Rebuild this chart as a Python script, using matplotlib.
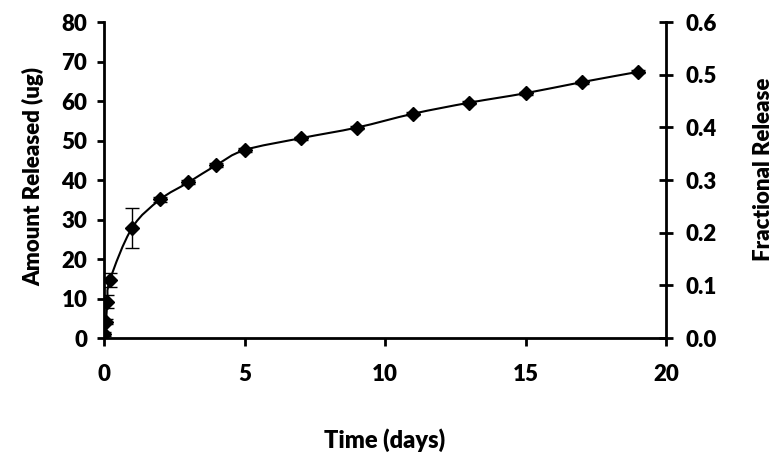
import numpy as np
import matplotlib.pyplot as plt
from matplotlib.path import Path
from matplotlib.patches import PathPatch

plt.rcParams['font.family'] = ['Lato', 'DejaVu Sans']
plt.rcParams['font.weight'] = 'heavy'
plt.rcParams['axes.labelweight'] = 'heavy'

# data
time_days = [0.01, 0.07, 0.12, 0.21, 1, 2, 3, 4, 5, 7, 9, 11, 13, 15, 17, 19]
amount_ug = [1.0, 4.1, 9.2, 14.7, 27.9, 35.1, 39.4, 43.8, 47.6, 50.6, 53.3, 56.8, 59.6, 62.0, 64.8, 67.4]
amount_err = [0.5, 0.6, 1.6, 1.8, 5.0, 0.6, 0.5, 0.5, 0.6, 0.4, 0.4, 0.4, 0.4, 0.4, 0.4, 0.4]

x_ticks = [0, 5, 10, 15, 20]
y_ticks = [0, 10, 20, 30, 40, 50, 60, 70, 80]
frac_ticks = [0.0, 0.1, 0.2, 0.3, 0.4, 0.5, 0.6]


def smooth_path(xs, ys):
    # excel style smoothed line: cubic bezier segments through the points
    pts = np.column_stack([xs, ys]).astype(float)
    n = len(pts)
    verts = [pts[0]]
    codes = [Path.MOVETO]
    for i in range(n - 1):
        p0 = pts[max(i - 1, 0)]
        p1 = pts[i]
        p2 = pts[i + 1]
        p3 = pts[min(i + 2, n - 1)]
        c1 = p1 + (p2 - p0) / 6.0
        c2 = p2 - (p3 - p1) / 6.0
        verts += [c1, c2, p2]
        codes += [Path.CURVE4] * 3
    return Path(verts, codes)


fig = plt.figure(figsize=(7.79, 4.61), dpi=100)
ax = fig.add_axes([0.1335, 0.2668, 0.7215, 0.6852])

# build the smooth curve in pixel space so it looks like excel
ax.set_xlim(0, 20)
ax.set_ylim(0, 80)
disp = ax.transData.transform(np.column_stack([time_days, amount_ug]))
path = smooth_path(disp[:, 0], disp[:, 1])
ax.add_patch(PathPatch(path, transform=None, facecolor='none', edgecolor='black', lw=1.5, zorder=2))

ax.errorbar(time_days, amount_ug, yerr=amount_err, fmt='D', color='black', ms=7,
            ecolor='black', elinewidth=1.0, capsize=5, capthick=1.0, zorder=3)

ax.set_xticks(x_ticks)
ax.set_yticks(y_ticks)
ax.spines['top'].set_visible(False)
ax.spines['right'].set_visible(False)
for s in ['left', 'bottom']:
    ax.spines[s].set_linewidth(2)
ax.tick_params(axis='y', direction='out', length=5, width=2, labelsize=16, pad=7)
ax.tick_params(axis='x', direction='out', length=6, width=2, labelsize=16, pad=13)

ax.set_xlabel('Time (days)', fontsize=17)
ax.set_ylabel('Amount Released (ug)', fontsize=16)
ax.yaxis.set_label_coords(-0.106, 0.51)
ax.xaxis.set_label_coords(0.5, -0.285)

ax2 = ax.twinx()
ax2.set_ylim(0, 0.6)
ax2.set_yticks(frac_ticks)
ax2.set_yticklabels([f'{v:.1f}' for v in frac_ticks])
ax2.spines['top'].set_visible(False)
ax2.spines['left'].set_visible(False)
ax2.spines['bottom'].set_visible(False)
ax2.spines['right'].set_linewidth(2)
ax2.tick_params(axis='y', direction='inout', length=10, width=2, labelsize=16, pad=9)
ax2.set_ylabel('Fractional Release', fontsize=16)
ax2.yaxis.set_label_coords(1.155, 0.535)

fig.savefig('out.png', dpi=100)
